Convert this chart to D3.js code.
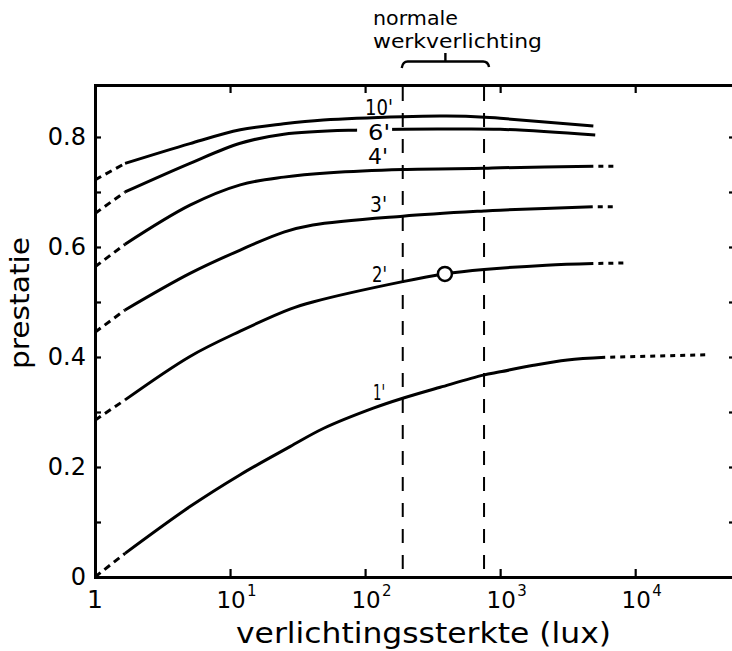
<!DOCTYPE html>
<html>
<head>
<meta charset="utf-8">
<script src="https://cdn.jsdelivr.net/npm/d3@7/dist/d3.min.js"></script>
<style>
  body { margin: 0; background: #fff; }
  svg { display: block; }
  text { font-family: "DejaVu Sans", sans-serif; fill: #000; }
</style>
</head>
<body>
<svg id="chart" width="732" height="651"></svg>
<script>
// Prestatie als functie van de verlichtingssterkte, per taakduur (minuten)
const curveLabels = ["1'", "2'", "3'", "4'", "6'", "10'"];

const lux1   = [1.67, 5.05, 11.9, 27.8, 49, 115, 190, 360, 750, 1000, 1770, 3150, 6000];
const prest1 = [0.043, 0.128, 0.186, 0.237, 0.270, 0.307, 0.325, 0.345, 0.367, 0.373, 0.385, 0.3945, 0.3995];

const lux2   = [1.67, 5.05, 11.9, 27.8, 41, 190, 390, 760, 2200, 4900];
const prest2 = [0.322, 0.401, 0.447, 0.487, 0.500, 0.537, 0.551, 0.559, 0.567, 0.570];

const lux3   = [1.67, 5.05, 11.9, 25, 41, 190, 760, 1000, 4850];
const prest3 = [0.4855, 0.552, 0.5945, 0.627, 0.640, 0.656, 0.6655, 0.667, 0.673];

const lux4   = [1.67, 5.05, 11.9, 25, 55, 190, 760, 1000, 4900];
const prest4 = [0.605, 0.676, 0.713, 0.727, 0.735, 0.741, 0.743, 0.744, 0.747];

const lux6   = [1.67, 5.05, 11.9, 25, 92, 400, 1000, 5060];
const prest6 = [0.700, 0.752, 0.7885, 0.805, 0.8127, 0.8145, 0.814, 0.8036];

const lux10   = [1.67, 5.05, 11.9, 25, 49, 190, 400, 770, 1000, 4900];
const prest10 = [0.752, 0.788, 0.813, 0.824, 0.831, 0.837, 0.838, 0.836, 0.834, 0.820];

// extrapolated parts: value at 1 lux, and where the dotted tail ends
const startPrest = [0, 0.285, 0.445, 0.564, 0.661, 0.722];
const tailLux    = [33000, 8900, 7100, 7100, null, null];
const tailPrest  = [0.404, 0.571, 0.673, 0.747, null, null];

// where the curve labels sit (baseline value near 100 lux)
const labelPrest = [0.322, 0.536, 0.664, 0.751, 0.7945, 0.840];

const workRange = [190, 760];          // normale werkverlichting
const markedLux = 390, markedPrest = 0.551;

const xTicks = [1, 10, 100, 1000, 10000];
const xExponents = ["", "1", "2", "3", "4"];
const yTicks = [0, 0.1, 0.2, 0.3, 0.4, 0.5, 0.6, 0.7, 0.8];
const yTickLabels = { 0: "0", 0.2: "0.2", 0.4: "0.4", 0.6: "0.6", 0.8: "0.8" };

const luxSeries = [lux1, lux2, lux3, lux4, lux6, lux10];
const prestSeries = [prest1, prest2, prest3, prest4, prest6, prest10];

// ---- layout
const padLeft = 95, padRight = 733, padTop = 85, padBottom = 577;
const svg = d3.select("#chart");

const x = d3.scaleLog().domain([1, 53000]).range([padLeft, padRight]);
const y = d3.scaleLinear().domain([0, 0.8945]).range([padBottom, padTop]);

// ---- axes / frame
function styleAxis(g) {
  g.select(".domain").attr("stroke", "#000").attr("stroke-width", 3).attr("stroke-linecap", "square");
  g.selectAll(".tick line").attr("stroke", "#000").attr("stroke-width", 2.2);
}

svg.append("g").attr("transform", `translate(0,${padBottom})`)
  .call(d3.axisBottom(x).tickValues(xTicks).tickSize(-8).tickSizeOuter(0).tickFormat(""))
  .call(styleAxis);

svg.append("g").attr("transform", `translate(0,${padTop})`)
  .call(d3.axisTop(x).tickValues(xTicks).tickSize(-8).tickSizeOuter(0).tickFormat(""))
  .call(styleAxis);

const yAxis = svg.append("g").attr("transform", `translate(${padLeft},0)`)
  .call(d3.axisLeft(y).tickValues(yTicks).tickSize(-6).tickSizeOuter(0).tickPadding(9)
    .tickFormat(d => yTickLabels[Math.round(d * 10) / 10] || ""))
  .call(styleAxis);
yAxis.selectAll(".tick text").attr("font-size", 24).attr("font-family", "DejaVu Sans").attr("fill", "#000");

svg.append("g").attr("transform", `translate(${padRight + 3},0)`)
  .call(d3.axisRight(y).tickValues(yTicks.slice(1)).tickSize(-7).tickSizeOuter(0).tickFormat(""))
  .call(styleAxis);

// x tick labels, powers of ten with superscript exponents
const xl = svg.append("g");
xTicks.forEach((t, i) => {
  const cx = x(t);
  if (!xExponents[i]) {
    xl.append("text").attr("x", cx).attr("y", 608).attr("text-anchor", "middle")
      .attr("font-size", 25).text("1");
  } else {
    xl.append("text").attr("x", cx + 1).attr("y", 608).attr("text-anchor", "middle")
      .attr("font-size", 23).text("10");
    xl.append("text").attr("x", cx + 17).attr("y", 596)
      .attr("font-size", 15).text(xExponents[i]);
  }
});

// axis titles
svg.append("text").attr("x", 236).attr("y", 643).attr("font-size", 28)
  .attr("textLength", 375).attr("lengthAdjust", "spacingAndGlyphs")
  .text("verlichtingssterkte (lux)");

svg.append("text").attr("transform", "translate(29,303) rotate(-90)")
  .attr("text-anchor", "middle").attr("font-size", 27)
  .attr("textLength", 132).attr("lengthAdjust", "spacingAndGlyphs")
  .text("prestatie");

// ---- normal working illumination band
const plot = svg.append("g");
workRange.forEach(v => {
  plot.append("line")
    .attr("x1", x(v)).attr("x2", x(v)).attr("y1", padTop + 2).attr("y2", padBottom)
    .attr("stroke", "#000").attr("stroke-width", 2).attr("stroke-dasharray", "14,12");
});

const bx0 = x(workRange[0]) - 1, bx1 = x(workRange[1]) + 5, bm = (bx0 + bx1) / 2;
plot.append("path")
  .attr("d", `M${bx0},68 Q${bx0 + 1},61.5 ${bx0 + 6},61.5 L${bx1 - 6},61.5 Q${bx1 - 1},61.5 ${bx1},67
              M${bm},61.5 L${bm},53`)
  .attr("fill", "none").attr("stroke", "#000").attr("stroke-width", 2.4);

svg.append("text").attr("x", 373).attr("y", 25).attr("font-size", 19)
  .attr("textLength", 85).attr("lengthAdjust", "spacingAndGlyphs").text("normale");
svg.append("text").attr("x", 373).attr("y", 47.5).attr("font-size", 19)
  .attr("textLength", 169).attr("lengthAdjust", "spacingAndGlyphs").text("werkverlichting");

// ---- curves
const line = d3.line().x(d => x(d[0])).y(d => y(d[1])).curve(d3.curveCatmullRom.alpha(0.5));
const straight = d3.line().x(d => x(d[0])).y(d => y(d[1]));

luxSeries.forEach((lx, i) => {
  const pts = lx.map((v, j) => [v, prestSeries[i][j]]);
  // dashed run-in from 1 lux
  plot.append("path").attr("d", straight([[1, startPrest[i]], pts[0]]))
    .attr("fill", "none").attr("stroke", "#000").attr("stroke-width", 3)
    .attr("stroke-dasharray", "7,5");
  // measured curve
  plot.append("path").attr("d", line(pts))
    .attr("fill", "none").attr("stroke", "#000").attr("stroke-width", 3);
  // dotted continuation
  if (tailLux[i] !== null) {
    plot.append("path").attr("d", straight([pts[pts.length - 1], [tailLux[i], tailPrest[i]]]))
      .attr("fill", "none").attr("stroke", "#000").attr("stroke-width", 3)
      .attr("stroke-dasharray", "5,5").attr("stroke-dashoffset", 5);
  }
});

// curve labels
const labelDx = [8, 7, 5, 3, 3, 0];
const labelW = [12, 15, 17, 20, 22, 28];
curveLabels.forEach((lab, i) => {
  const lx0 = x(100) + labelDx[i];
  if (lab === "6'") {
    plot.append("rect").attr("x", lx0 - 11).attr("y", y(labelPrest[i]) - 15)
      .attr("width", labelW[i] + 13).attr("height", 10).attr("fill", "#fff");
  }
  plot.append("text").attr("x", lx0).attr("y", y(labelPrest[i]))
    .attr("font-size", 20.5).attr("textLength", labelW[i]).attr("lengthAdjust", "spacingAndGlyphs")
    .text(lab);
});

// marked point on the 2' curve
plot.append("circle").attr("cx", x(markedLux)).attr("cy", y(markedPrest)).attr("r", 7)
  .attr("fill", "#fff").attr("stroke", "#000").attr("stroke-width", 2.5);
</script>
</body>
</html>
